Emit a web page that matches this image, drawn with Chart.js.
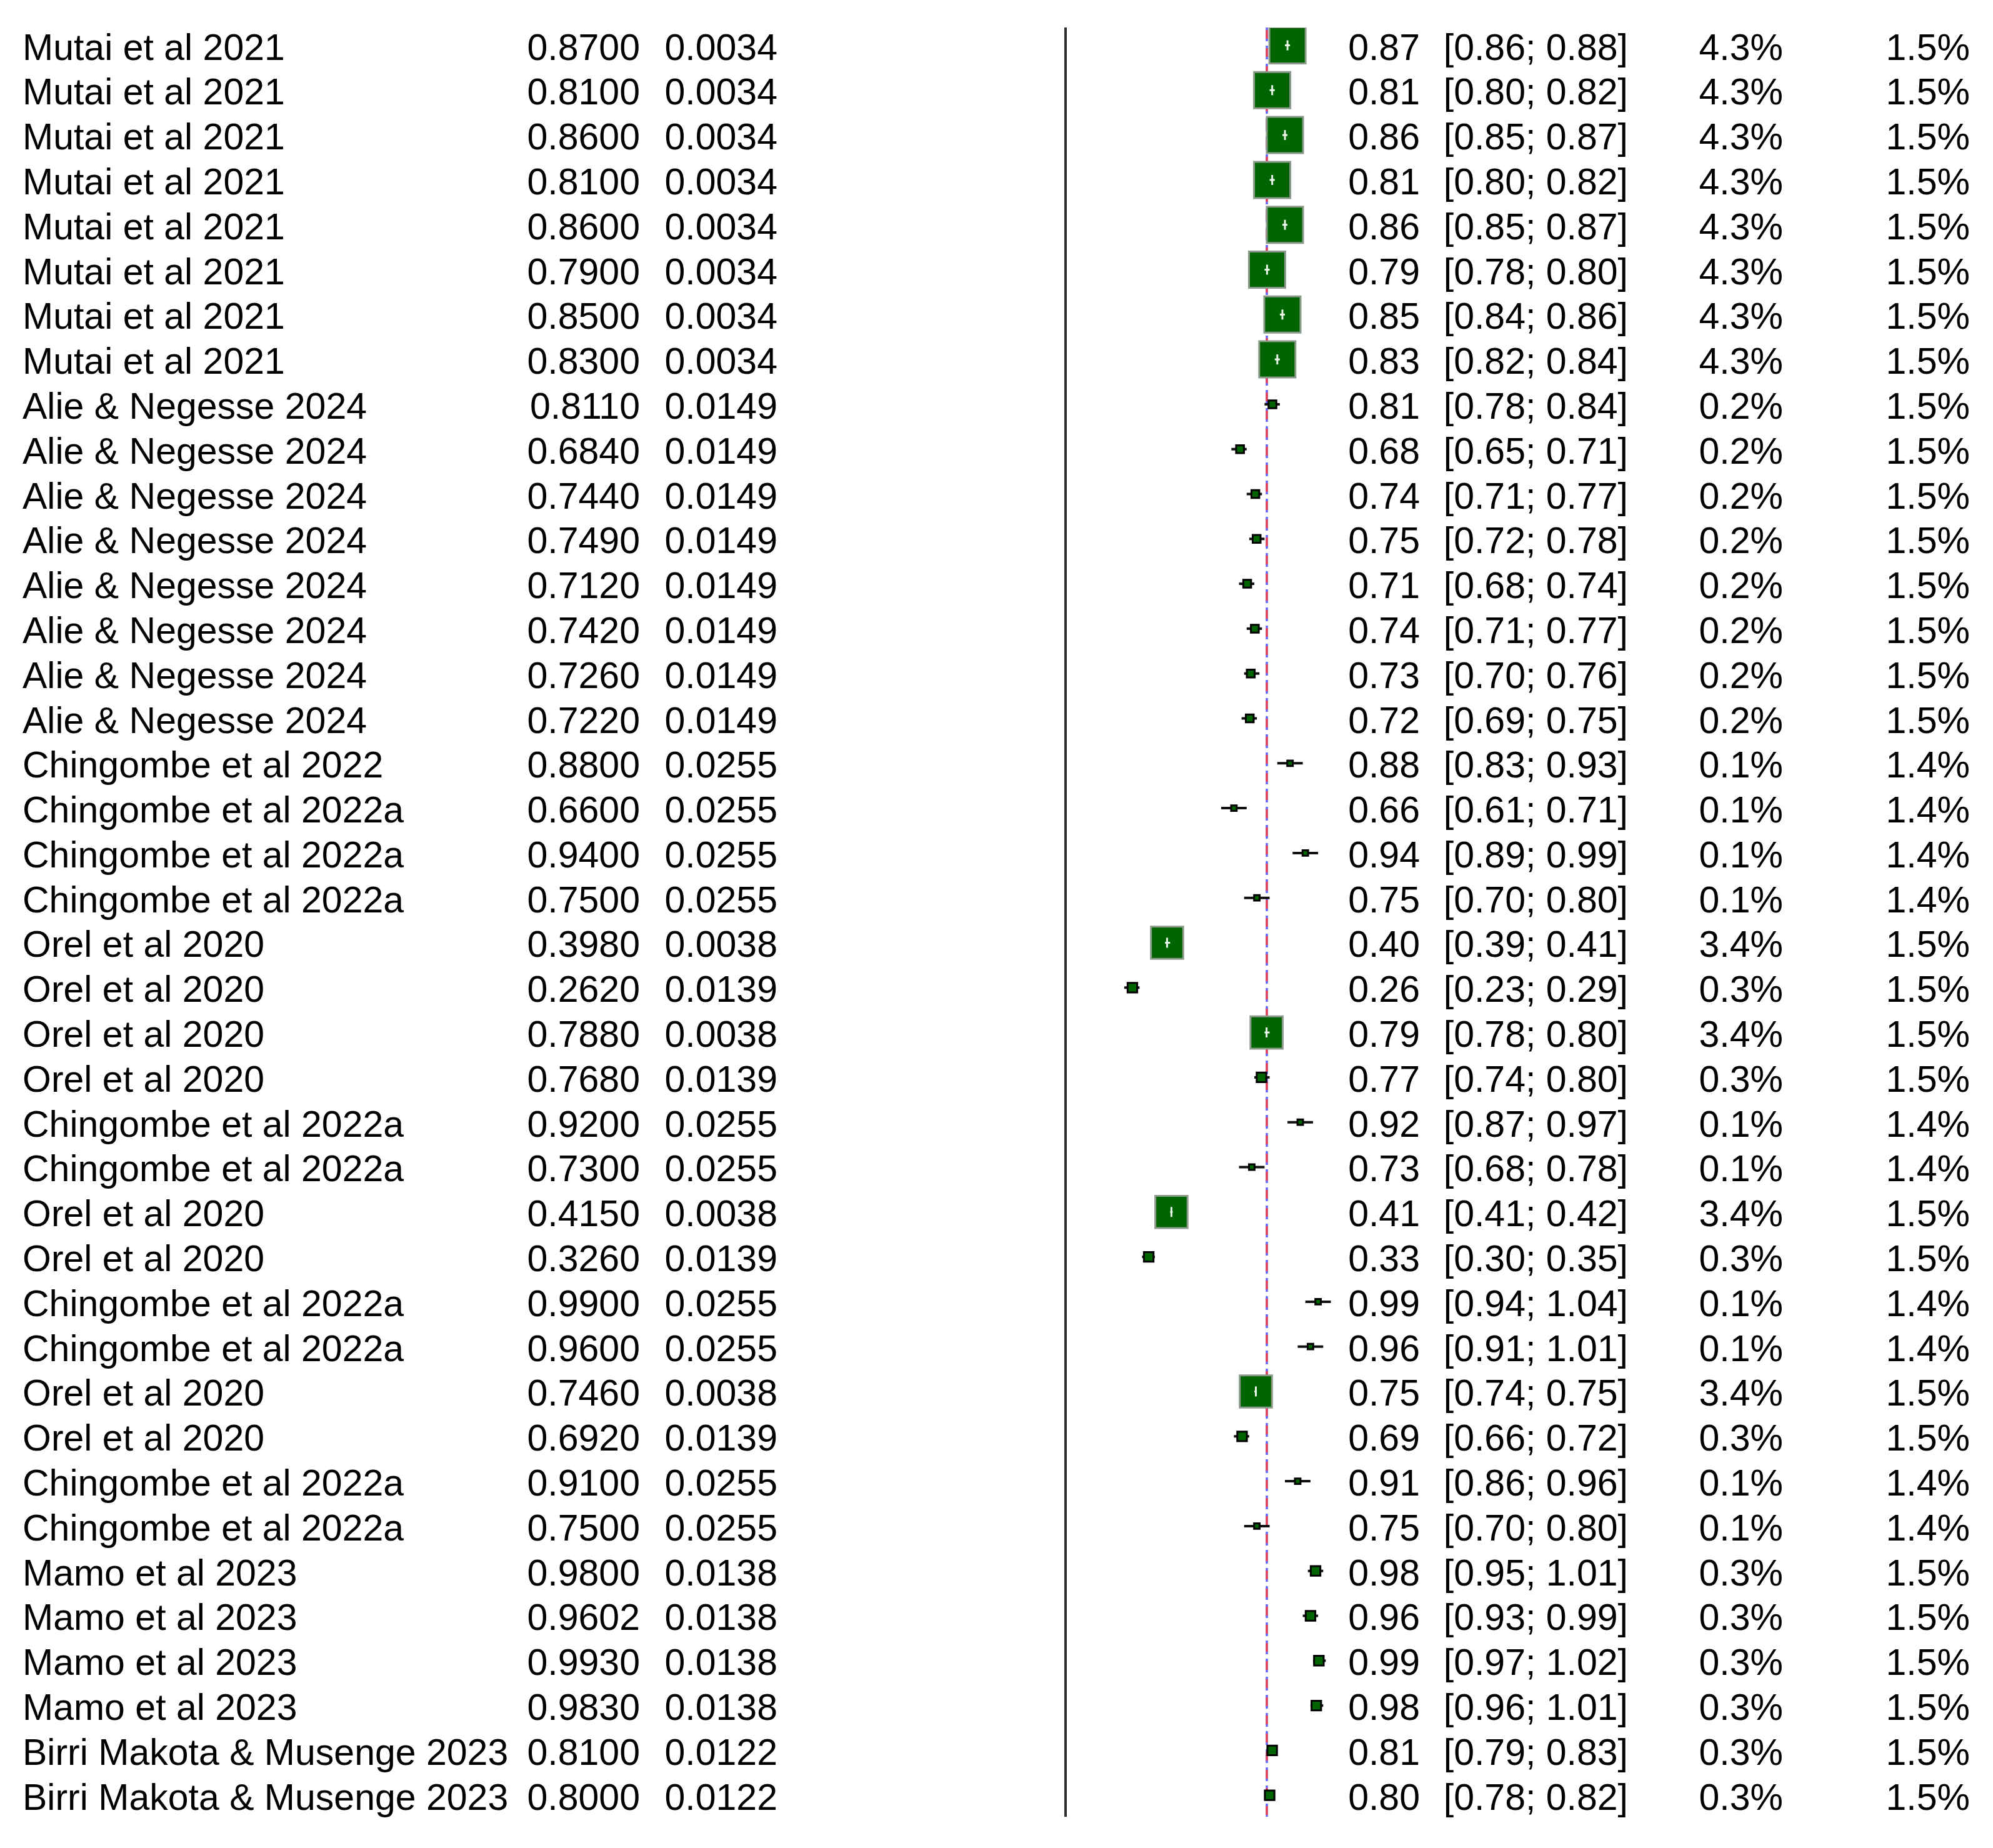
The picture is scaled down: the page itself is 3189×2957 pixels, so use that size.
<!DOCTYPE html>
<html lang="en">
<head>
  <meta charset="UTF-8" />
  <title>Forest plot</title>
  <script src="https://cdn.jsdelivr.net/npm/chart.js"></script>
  <style>
    html, body { margin: 0; padding: 0; background: #fff; }
    canvas { display: block; }
  </style>
</head>
<body>
  <canvas id="forest" width="3189" height="2957"></canvas>

  <script>
    // study rows, top to bottom
    const studies = [
      "Mutai et al 2021", "Mutai et al 2021", "Mutai et al 2021", "Mutai et al 2021",
      "Mutai et al 2021", "Mutai et al 2021", "Mutai et al 2021", "Mutai et al 2021",
      "Alie & Negesse 2024", "Alie & Negesse 2024", "Alie & Negesse 2024", "Alie & Negesse 2024",
      "Alie & Negesse 2024", "Alie & Negesse 2024", "Alie & Negesse 2024", "Alie & Negesse 2024",
      "Chingombe et al 2022", "Chingombe et al 2022a", "Chingombe et al 2022a", "Chingombe et al 2022a",
      "Orel et al 2020", "Orel et al 2020", "Orel et al 2020", "Orel et al 2020",
      "Chingombe et al 2022a", "Chingombe et al 2022a", "Orel et al 2020", "Orel et al 2020",
      "Chingombe et al 2022a", "Chingombe et al 2022a", "Orel et al 2020", "Orel et al 2020",
      "Chingombe et al 2022a", "Chingombe et al 2022a", "Mamo et al 2023", "Mamo et al 2023",
      "Mamo et al 2023", "Mamo et al 2023", "Birri Makota & Musenge 2023", "Birri Makota & Musenge 2023"
    ];
    const te = [
      0.8700, 0.8100, 0.8600, 0.8100, 0.8600, 0.7900, 0.8500, 0.8300,
      0.8110, 0.6840, 0.7440, 0.7490, 0.7120, 0.7420, 0.7260, 0.7220,
      0.8800, 0.6600, 0.9400, 0.7500, 0.3980, 0.2620, 0.7880, 0.7680,
      0.9200, 0.7300, 0.4150, 0.3260, 0.9900, 0.9600, 0.7460, 0.6920,
      0.9100, 0.7500, 0.9800, 0.9602, 0.9930, 0.9830, 0.8100, 0.8000
    ];
    const seTE = [
      0.0034, 0.0034, 0.0034, 0.0034, 0.0034, 0.0034, 0.0034, 0.0034,
      0.0149, 0.0149, 0.0149, 0.0149, 0.0149, 0.0149, 0.0149, 0.0149,
      0.0255, 0.0255, 0.0255, 0.0255, 0.0038, 0.0139, 0.0038, 0.0139,
      0.0255, 0.0255, 0.0038, 0.0139, 0.0255, 0.0255, 0.0038, 0.0139,
      0.0255, 0.0255, 0.0138, 0.0138, 0.0138, 0.0138, 0.0122, 0.0122
    ];
    const ciLow = [
      0.86, 0.80, 0.85, 0.80, 0.85, 0.78, 0.84, 0.82,
      0.78, 0.65, 0.71, 0.72, 0.68, 0.71, 0.70, 0.69,
      0.83, 0.61, 0.89, 0.70, 0.39, 0.23, 0.78, 0.74,
      0.87, 0.68, 0.41, 0.30, 0.94, 0.91, 0.74, 0.66,
      0.86, 0.70, 0.95, 0.93, 0.97, 0.96, 0.79, 0.78
    ];
    const ciHigh = [
      0.88, 0.82, 0.87, 0.82, 0.87, 0.80, 0.86, 0.84,
      0.84, 0.71, 0.77, 0.78, 0.74, 0.77, 0.76, 0.75,
      0.93, 0.71, 0.99, 0.80, 0.41, 0.29, 0.80, 0.80,
      0.97, 0.78, 0.42, 0.35, 1.04, 1.01, 0.75, 0.72,
      0.96, 0.80, 1.01, 0.99, 1.02, 1.01, 0.83, 0.82
    ];
    const weightCommon = [
      4.3, 4.3, 4.3, 4.3, 4.3, 4.3, 4.3, 4.3,
      0.2, 0.2, 0.2, 0.2, 0.2, 0.2, 0.2, 0.2,
      0.1, 0.1, 0.1, 0.1, 3.4, 0.3, 3.4, 0.3,
      0.1, 0.1, 3.4, 0.3, 0.1, 0.1, 3.4, 0.3,
      0.1, 0.1, 0.3, 0.3, 0.3, 0.3, 0.3, 0.3
    ];
    const weightRandom = [
      1.5, 1.5, 1.5, 1.5, 1.5, 1.5, 1.5, 1.5,
      1.5, 1.5, 1.5, 1.5, 1.5, 1.5, 1.5, 1.5,
      1.4, 1.4, 1.4, 1.4, 1.5, 1.5, 1.5, 1.5,
      1.4, 1.4, 1.5, 1.5, 1.4, 1.4, 1.5, 1.5,
      1.4, 1.4, 1.5, 1.5, 1.5, 1.5, 1.5, 1.5
    ];
    // pooled estimates (dashed lines)
    const pooledCommon = 0.789;
    const pooledRandom = 0.789;
    const nullValue = 0;

    const FONT = '59px "Liberation Sans", Arial, sans-serif';
    const BIG = 58; // square side for 4.3%
    const sides = weightCommon.map(w => BIG * Math.sqrt(w / 4.3));

    // CI line behind squares (black) or on top of them (white) when it fits inside
    const ciLines = {
      id: 'ciLines',
      beforeDatasetsDraw(chart) { drawCI(chart, false); },
      afterDatasetsDraw(chart) { drawCI(chart, true); }
    };

    function drawCI(chart, inside) {
      const { ctx, scales: { x, y } } = chart;
      ctx.save();
      te.forEach((v, i) => {
        const x0 = x.getPixelForValue(ciLow[i]);
        const x1 = x.getPixelForValue(ciHigh[i]);
        const fits = (x1 - x0) < sides[i];
        if (fits !== inside) return;
        const yy = y.getPixelForValue(i);
        ctx.lineWidth = inside ? 3 : 4;
        ctx.strokeStyle = inside ? '#e8f5e8' : '#111';
        ctx.beginPath();
        ctx.moveTo(x0, yy);
        ctx.lineTo(x1, yy);
        ctx.stroke();
        if (inside) {
          ctx.beginPath();
          ctx.moveTo(x.getPixelForValue(v), yy - 8);
          ctx.lineTo(x.getPixelForValue(v), yy + 8);
          ctx.stroke();
        }
      });
      ctx.restore();
    }

    const refLines = {
      id: 'refLines',
      beforeDatasetsDraw(chart) {
        const { ctx, chartArea: a, scales: { x } } = chart;
        ctx.save();
        // null line
        ctx.strokeStyle = '#2b2b2b';
        ctx.lineWidth = 4;
        let px = x.getPixelForValue(nullValue);
        ctx.beginPath(); ctx.moveTo(px, a.top); ctx.lineTo(px, a.bottom); ctx.stroke();
        // common effect (blue) and random effects (red), dashed
        ctx.lineWidth = 3.5;
        px = x.getPixelForValue(pooledCommon);
        ctx.strokeStyle = 'rgba(70,70,255,0.85)';
        ctx.setLineDash([22, 7]);
        ctx.beginPath(); ctx.moveTo(px, a.top); ctx.lineTo(px, a.bottom); ctx.stroke();
        px = x.getPixelForValue(pooledRandom);
        ctx.strokeStyle = 'rgba(255,60,60,0.85)';
        ctx.setLineDash([14, 15]);
        ctx.lineDashOffset = -4;
        ctx.beginPath(); ctx.moveTo(px, a.top); ctx.lineTo(px, a.bottom); ctx.stroke();
        ctx.restore();
      }
    };

    const tableText = {
      id: 'tableText',
      afterDraw(chart) {
        const { ctx, scales: { y } } = chart;
        ctx.save();
        ctx.font = FONT;
        ctx.fillStyle = '#000';
        ctx.textBaseline = 'alphabetic';
        studies.forEach((s, i) => {
          const base = y.getPixelForValue(i) + 23;
          ctx.textAlign = 'left';
          ctx.fillText(s, 36, base);
          ctx.textAlign = 'right';
          ctx.fillText(te[i].toFixed(4), 1024, base);
          ctx.fillText(seTE[i].toFixed(4), 1244, base);
          ctx.fillText(te[i].toFixed(2), 2272, base);
          ctx.fillText('[' + ciLow[i].toFixed(2) + '; ' + ciHigh[i].toFixed(2) + ']', 2605, base);
          ctx.fillText(weightCommon[i].toFixed(1) + '%', 2853, base);
          ctx.fillText(weightRandom[i].toFixed(1) + '%', 3152, base);
        });
        ctx.restore();
      }
    };

    new Chart(document.getElementById('forest'), {
      type: 'scatter',
      data: {
        datasets: [{
          data: te.map((v, i) => ({ x: v, y: i })),
          pointStyle: 'rect',
          pointRadius: sides.map(s => s / Math.SQRT2),
          backgroundColor: '#006400',
          borderColor: sides.map(s => s > 30 ? '#8c9a8c' : '#000'),
          borderWidth: sides.map(s => s > 30 ? 3 : 3)
        }]
      },
      options: {
        responsive: false,
        animation: false,
        devicePixelRatio: 1,
        layout: { padding: { left: 1705, right: 1035, top: 44, bottom: 50 } },
        scales: {
          x: { type: 'linear', min: 0, max: 1.1, display: false },
          y: { type: 'linear', min: -0.397, max: 39.478, reverse: true, display: false }
        },
        plugins: { legend: { display: false }, tooltip: { enabled: false } }
      },
      plugins: [refLines, ciLines, tableText]
    });
  </script>
</body>
</html>
